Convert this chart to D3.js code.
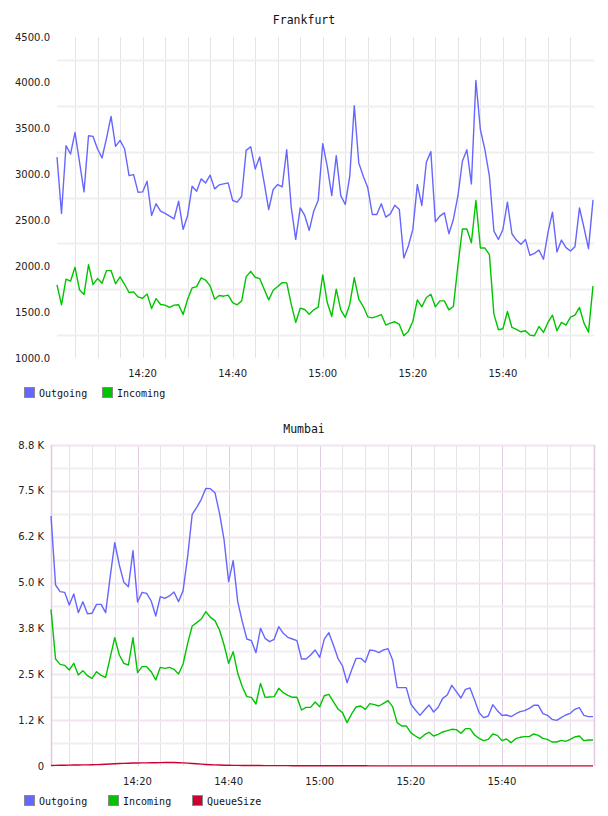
<!DOCTYPE html>
<html lang="en">
<head>
<meta charset="UTF-8">
<title>Frankfurt / Mumbai traffic</title>
<script src="https://cdn.jsdelivr.net/npm/d3@7"></script>
<style>
    html,body{ margin:0; background:#fff; }
    svg{ display:block; }
    .tick-label{ font-family:"DejaVu Sans",sans-serif; font-size:10px; fill:#222; }
    .title, .legend{ font-family:"DejaVu Sans Mono",monospace; fill:#111; }
</style>
</head>
<body>
<script>
// one sample per minute, 14:01 .. 16:00
const times = ("14:01 14:02 14:03 14:04 14:05 14:06 14:07 14:08 14:09 14:10 14:11 14:12 14:13 14:14 14:15 14:16 14:17 14:18 14:19 14:20 " +
    "14:21 14:22 14:23 14:24 14:25 14:26 14:27 14:28 14:29 14:30 14:31 14:32 14:33 14:34 14:35 14:36 14:37 14:38 14:39 14:40 " +
    "14:41 14:42 14:43 14:44 14:45 14:46 14:47 14:48 14:49 14:50 14:51 14:52 14:53 14:54 14:55 14:56 14:57 14:58 14:59 15:00 " +
    "15:01 15:02 15:03 15:04 15:05 15:06 15:07 15:08 15:09 15:10 15:11 15:12 15:13 15:14 15:15 15:16 15:17 15:18 15:19 15:20 " +
    "15:21 15:22 15:23 15:24 15:25 15:26 15:27 15:28 15:29 15:30 15:31 15:32 15:33 15:34 15:35 15:36 15:37 15:38 15:39 15:40 " +
    "15:41 15:42 15:43 15:44 15:45 15:46 15:47 15:48 15:49 15:50 15:51 15:52 15:53 15:54 15:55 15:56 15:57 15:58 15:59 16:00").split(" ");

const xTickLabels = ["14:20", "14:40", "15:00", "15:20", "15:40"];

// Frankfurt
const fraOutgoing = [3190,2575,3315,3224,3460,3135,2811,3424,3416,3279,3181,3398,3634,3308,3373,3282,2989,3000,2808,2811,
    2927,2554,2681,2601,2576,2547,2518,2710,2402,2554,2873,2819,2953,2909,2993,2844,2887,2898,2909,2717,
    2699,2764,3264,3304,3061,3192,2909,2619,2837,2891,2866,3271,2645,2293,2637,2554,2391,2601,2721,3337,
    3090,2771,3206,2771,2674,2982,3750,3127,2982,2855,2565,2565,2681,2536,2572,2666,2619,2090,2221,2402,
    2891,2663,3134,3250,2485,2547,2583,2355,2511,2764,3145,3271,2898,4025,3489,3271,2982,2384,2293,2402,
    2699,2355,2286,2239,2293,2119,2141,2177,2076,2366,2590,2156,2286,2203,2166,2214,2637,2420,2192,2721];
const fraIncoming = [1797,1580,1859,1837,1989,1743,1692,2018,1800,1866,1815,1953,1953,1808,1884,1804,1714,1721,1666,1652,
    1699,1540,1648,1583,1576,1551,1576,1580,1474,1641,1764,1779,1873,1848,1786,1641,1681,1674,1685,1605,
    1580,1623,1887,1945,1880,1866,1750,1634,1739,1779,1822,1819,1587,1388,1543,1529,1478,1525,1554,1906,
    1605,1453,1750,1525,1442,1587,1877,1641,1561,1449,1438,1453,1474,1359,1380,1395,1366,1243,1290,1398,
    1634,1558,1659,1695,1558,1623,1623,1525,1561,2003,2406,2406,2257,2717,2199,2199,2127,1478,1308,1319,
    1507,1333,1311,1286,1297,1250,1243,1344,1279,1388,1467,1297,1388,1359,1445,1467,1551,1380,1282,1786];

// Mumbai
const bomOutgoing = [6815,4934,4752,4734,4389,4689,4180,4480,4152,4162,4407,4407,4180,5161,6088,5479,5007,4889,5870,4471,
    4734,4707,4498,4089,4616,4571,4634,4743,4480,4780,5706,6860,7051,7269,7569,7560,7451,6888,6161,5025,
    5597,4480,3934,3462,3416,3089,3753,3480,3389,3453,3798,3616,3507,3462,3416,2917,2917,3026,3162,2962,
    3460,3635,3299,2935,2726,2272,2617,2935,2935,2826,3163,3144,3090,3163,3199,2890,2136,2136,2136,1690,
    1527,1381,1527,1663,1472,1600,1845,1936,2199,2027,1854,2090,2127,1799,1454,1318,1363,1672,1509,1381,
    1390,1345,1418,1481,1509,1572,1654,1654,1427,1381,1272,1245,1318,1390,1436,1545,1590,1381,1345,1345];
const bomIncoming = [4271,2917,2771,2744,2617,2799,2480,2599,2462,2390,2571,2471,2417,2962,3498,3026,2799,2753,3498,2544,
    2708,2708,2571,2344,2689,2662,2689,2635,2508,2780,3344,3816,3907,4007,4207,4053,3962,3707,3298,2799,
    3117,2526,2162,1890,1872,1690,2253,1872,1881,1890,2117,1999,1926,1872,1872,1526,1599,1599,1744,1617,
    1915,1954,1754,1554,1454,1182,1418,1609,1636,1545,1699,1672,1636,1709,1781,1618,1182,1091,1091,909,
    818,745,854,918,818,863,927,963,1000,991,891,1018,1018,845,754,691,727,873,836,691,
    736,636,745,782,800,800,873,836,754,727,654,654,700,673,727,791,818,691,709,709];
const bomQueue = [15,18,20,22,25,27,28,30,32,35,38,42,48,55,62,68,72,76,80,82,
    84,86,88,90,92,95,96,94,90,85,78,70,60,50,42,35,30,26,22,20,
    18,16,15,14,13,12,12,11,10,10,10,9,9,8,8,8,7,7,7,6,
    6,6,6,5,5,5,5,5,5,5,4,4,4,4,4,4,4,4,4,4,
    4,4,3,3,3,3,3,3,3,3,3,3,3,3,3,3,3,3,3,3,
    3,3,3,3,3,3,3,3,3,3,3,3,3,3,3,3,3,3,3,3];

const fraYTicks = [1000, 1500, 2000, 2500, 3000, 3500, 4000, 4500];
const bomYTicks = [0, 1250, 2500, 3750, 5000, 6250, 7500, 8750];
const bomYTickLabels = ["0", "1.2 K", "2.5 K", "3.8 K", "5.0 K", "6.2 K", "7.5 K", "8.8 K"];

const seriesColors = { Outgoing: "#6666ff", Incoming: "#00c400", QueueSize: "#cc0033" };

const parseTime = d3.timeParse("%H:%M");
const dates = times.map(parseTime);

const svg = d3.select("body").append("svg").attr("width", 608).attr("height", 816);

function drawChart(cfg) {
    const g = svg.append("g");
    const x = d3.scaleTime().domain(d3.extent(dates)).range([cfg.left, cfg.right]);
    const y = d3.scaleLinear().domain(cfg.yDomain).range([cfg.bottom, cfg.top]);

    // vertical grid, every 5 minutes
    const minor = d3.timeMinute.every(5).range(dates[0], dates[dates.length - 1]);
    g.selectAll(".vgrid").data(minor).join("line")
        .attr("x1", d => Math.round(x(d)) + 0.5).attr("x2", d => Math.round(x(d)) + 0.5)
        .attr("y1", cfg.top).attr("y2", cfg.bottom)
        .attr("stroke", d => (cfg.majorV && d.getMinutes() % 20 === 0) ? cfg.majorV : cfg.minorV)
        .attr("stroke-width", 1);

    // horizontal grid
    g.selectAll(".hgrid").data(cfg.hGrid).join("line")
        .attr("x1", cfg.left).attr("x2", cfg.right + 1)
        .attr("y1", d => Math.round(y(d.v)) + 0.5).attr("y2", d => Math.round(y(d.v)) + 0.5)
        .attr("stroke", d => d.c).attr("stroke-width", 2);

    if (cfg.frame) {
        g.append("line").attr("x1", cfg.left + 0.5).attr("x2", cfg.left + 0.5)
            .attr("y1", cfg.top).attr("y2", cfg.bottom).attr("stroke", cfg.frame).attr("stroke-width", 1.5);
        g.append("line").attr("x1", cfg.right + 1.5).attr("x2", cfg.right + 1.5)
            .attr("y1", cfg.top).attr("y2", cfg.bottom).attr("stroke", cfg.frame).attr("stroke-width", 1.5);
    }

    // y labels
    g.selectAll(".ylab").data(cfg.yTicks).join("text")
        .attr("class", "tick-label")
        .attr("x", cfg.left - 7).attr("y", d => y(d)).attr("dy", "0.35em")
        .attr("text-anchor", "end")
        .text((d, i) => cfg.yLabels ? cfg.yLabels[i] : d3.format(".1f")(d));

    // x labels
    g.selectAll(".xlab").data(xTickLabels).join("text")
        .attr("class", "tick-label")
        .attr("x", d => x(parseTime(d))).attr("y", cfg.bottom + 15).attr("dy", "0.35em")
        .attr("text-anchor", "middle")
        .text(d => d);

    const line = d3.line().x((d, i) => x(dates[i])).y(d => y(d));
    cfg.series.forEach(s => {
        g.append("path").datum(s.values)
            .attr("fill", "none").attr("stroke", seriesColors[s.name])
            .attr("stroke-width", 1.4).attr("stroke-linejoin", "round")
            .attr("d", line);
    });

    g.append("text").attr("class", "title").attr("font-size", 11.5)
        .attr("x", 304).attr("y", cfg.titleY).attr("text-anchor", "middle").text(cfg.title);

    const leg = g.selectAll(".leg").data(cfg.series).join("g")
        .attr("transform", (d, i) => `translate(${24 + i * cfg.legendStep},${cfg.legendY})`);
    leg.append("rect").attr("x", 0.5).attr("y", 0.5).attr("width", 10).attr("height", 10)
        .attr("fill", d => seriesColors[d.name]).attr("stroke", "#8a8a8a");
    leg.append("text").attr("class", "legend").attr("font-size", 10)
        .attr("x", 15).attr("y", 9.5).text(d => d.name);
}

drawChart({
    title: "Frankfurt", titleY: 24,
    left: 57, right: 593, top: 37, bottom: 358,
    yDomain: [1000, 4500], yTicks: fraYTicks,
    hGrid: [1250, 1750, 2250, 2750, 3250, 3750, 4250].map(v => ({ v: v, c: "#efefef" })),
    minorV: "#e4e4e4",
    series: [{ name: "Outgoing", values: fraOutgoing }, { name: "Incoming", values: fraIncoming }],
    legendY: 387, legendStep: 78
});

drawChart({
    title: "Mumbai", titleY: 433,
    left: 51, right: 593, top: 445, bottom: 766,
    yDomain: [0, 8750], yTicks: bomYTicks, yLabels: bomYTickLabels,
    hGrid: [625, 1250, 1875, 2500, 3125, 3750, 4375, 5000, 5625, 6250, 6875, 7500, 8125, 8750]
        .map((v, i) => ({ v: v, c: i % 2 ? "#f1e4f1" : "#efefef" })),
    minorV: "#e6e1e6", majorV: "#e2cce2", frame: "#e2c8e2",
    series: [{ name: "Outgoing", values: bomOutgoing }, { name: "Incoming", values: bomIncoming },
        { name: "QueueSize", values: bomQueue }],
    legendY: 795, legendStep: 84
});
</script>
</body>
</html>
